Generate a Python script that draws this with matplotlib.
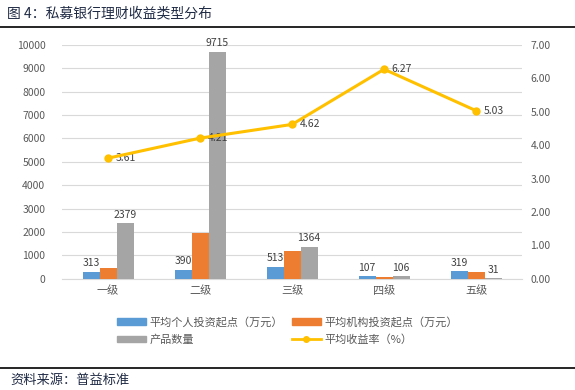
import matplotlib
matplotlib.use('Agg')
import matplotlib.pyplot as plt
from matplotlib.lines import Line2D
from matplotlib.patches import Patch
import numpy as np

plt.rcParams['font.family'] = ['Noto Sans CJK SC', 'DejaVu Sans']

categories = ['一级', '二级', '三级', '四级', '五级']
personal_start = [313, 390, 513, 107, 319]
inst_start = [460, 1950, 1190, 85, 285]
product_count = [2379, 9715, 1364, 106, 31]
avg_yield = [3.61, 4.21, 4.62, 6.27, 5.03]

c_blue = '#5B9BD5'
c_orange = '#ED7D31'
c_gray = '#A5A5A5'
c_yellow = '#FFC000'
txt = '#595959'

fig = plt.figure(figsize=(5.75, 3.9), dpi=100)
ax = fig.add_axes([0.108, 0.285, 0.8, 0.60])
ax2 = ax.twinx()

x = np.arange(len(categories))
w = 0.185
ax.bar(x - w, personal_start, w, color=c_blue, zorder=3)
ax.bar(x, inst_start, w, color=c_orange, zorder=3)
ax.bar(x + w, product_count, w, color=c_gray, zorder=3)

for i in range(len(categories)):
    ax.text(x[i] - w, personal_start[i] + 150, str(personal_start[i]), ha='center',
            va='bottom', fontsize=7.5, color='#404040')
    ax.text(x[i] + w, product_count[i] + 150, str(product_count[i]), ha='center',
            va='bottom', fontsize=7.5, color='#404040')

ax2.plot(x, avg_yield, color=c_yellow, lw=2.2, marker='o', ms=5, zorder=5)
for i in range(len(categories)):
    ax2.text(x[i] + 0.08, avg_yield[i], '%.2f' % avg_yield[i], ha='left', va='center',
             fontsize=7.5, color='#404040')

ax.set_xlim(-0.5, 4.5)
ax.set_ylim(0, 10000)
ax.set_yticks(range(0, 10001, 1000))
ax2.set_ylim(0, 7)
ax2.set_yticks(range(0, 8))
ax2.set_yticklabels(['%.2f' % v for v in range(0, 8)])
ax.set_xticks(x)
ax.set_xticklabels(categories)
ax.yaxis.grid(True, color='#D9D9D9', lw=0.8, zorder=0)
ax.set_axisbelow(True)
for a in (ax, ax2):
    for s in a.spines.values():
        s.set_visible(False)
    a.tick_params(length=0, labelsize=7.5, labelcolor=txt, pad=6)
ax.tick_params(axis='y', pad=12)
ax.spines['bottom'].set_visible(True)
ax.spines['bottom'].set_color('#D9D9D9')
ax.tick_params(axis='x', labelsize=8, pad=5)
ax.set_zorder(ax2.get_zorder() - 1)
ax.patch.set_visible(False)

# legend filled column-wise, so order gives rows: blue/orange, gray/yellow
handles = [Patch(color=c_blue), Patch(color=c_gray), Patch(color=c_orange),
           Line2D([], [], color=c_yellow, lw=2, marker='o', ms=4)]
labels = ['平均个人投资起点（万元）', '产品数量', '平均机构投资起点（万元）', '平均收益率（%）']
fig.legend(handles, labels, ncol=2, loc='center', bbox_to_anchor=(0.5, 0.152),
           frameon=False, fontsize=8, handlelength=2.6, handleheight=0.5,
           columnspacing=0.8, labelspacing=0.6, handletextpad=0.3,
           labelcolor=txt)

fig.text(0.012, 0.965, '图 4：私募银行理财收益类型分布', fontsize=10, color='#1F2A44',
         ha='left', va='center')
fig.add_artist(Line2D([0.0, 1.0], [0.932, 0.932], color='black', lw=1.2))
fig.add_artist(Line2D([0.0, 1.0], [0.057, 0.057], color='black', lw=1.2))
fig.text(0.018, 0.025, '资料来源：普益标准', fontsize=9.5, color='#1F2A44',
         ha='left', va='center')

fig.savefig('out.png', dpi=100)
